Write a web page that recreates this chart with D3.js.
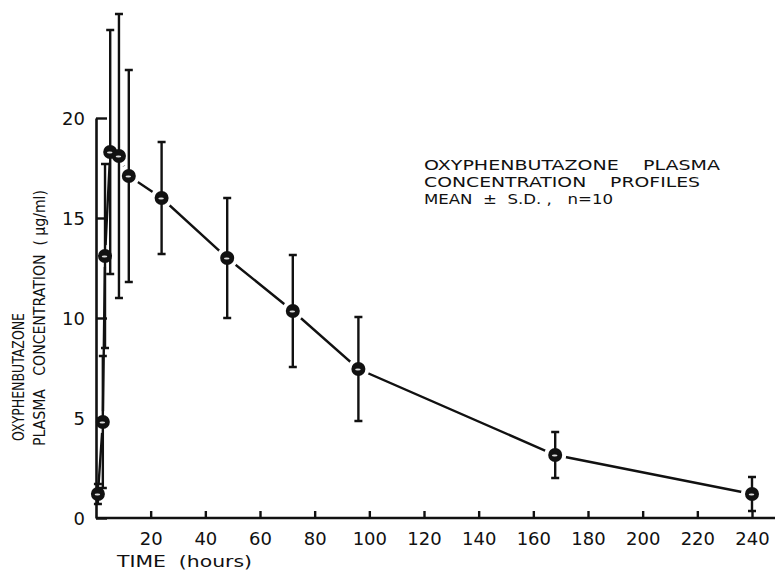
<!DOCTYPE html>
<html lang="en">
<head>
  <meta charset="utf-8" />
  <title>Oxyphenbutazone plasma concentration</title>
  <style>
    html, body { margin: 0; background: #fff; }
    svg { display: block; }
    text { font-family: "DejaVu Sans", sans-serif; fill: #111; white-space: pre; }
  </style>
  <script src="https://cdn.jsdelivr.net/npm/d3@7"></script>
</head>
<body>
<script>
// Values (mean ± S.D., n = 10)
const times = [0.7, 2.5, 3.3, 5.2, 8.4, 12, 24, 48, 72, 96, 168, 240];   // hours
const means = [1.2, 4.8, 13.1, 18.3, 18.1, 17.1, 16.0, 13.0, 10.35, 7.45, 3.15, 1.2]; // µg/ml
const sds   = [0.5, 3.3, 4.6, 6.1, 7.1, 5.3, 2.8, 3.0, 2.8, 2.6, 1.15, 0.85];
const xTicks = [20, 40, 60, 80, 100, 120, 140, 160, 180, 200, 220, 240];
const yTicks = [0, 5, 10, 15, 20];
const note = ["OXYPHENBUTAZONE    PLASMA", "CONCENTRATION    PROFILES", "MEAN  \u00b1  S.D. ,   n=10"];

const W = 780, H = 571;
const ink = "#111";

const svg = d3.select("body").append("svg")
  .attr("width", W).attr("height", H);

const x = d3.scaleLinear().domain([0, 240]).range([96, 752]);
const y = d3.scaleLinear().domain([0, 20]).range([518, 118]);

const data = times.map((t, i) => ({ t, m: means[i], sd: sds[i] }));

// connecting line, broken near each marker like the pen drawing
svg.append("path")
  .datum(data)
  .attr("fill", "none")
  .attr("stroke", ink)
  .attr("stroke-width", 2.4)
  .attr("d", d3.line().x(d => x(d.t)).y(d => y(d.m)));

svg.append("g").selectAll("circle")
  .data(data)
  .join("circle")
    .attr("cx", d => x(d.t))
    .attr("cy", d => y(d.m))
    .attr("r", 11)
    .attr("fill", "#fff");

// axes
const xAxis = d3.axisBottom(x)
  .tickValues(xTicks)
  .tickSizeInner(-7)
  .tickSizeOuter(0)
  .tickPadding(22);
const gx = svg.append("g")
  .attr("transform", `translate(0,${y(0)})`)
  .call(xAxis);
gx.select(".domain").attr("d", `M${x(0)},0H775`);
gx.selectAll("text").attr("font-size", 18).attr("fill", ink);

const yAxis = d3.axisLeft(y)
  .tickValues(yTicks)
  .tickSizeInner(-11)
  .tickSizeOuter(0)
  .tickPadding(11);
const gy = svg.append("g")
  .attr("transform", `translate(${x(0)},0)`)
  .call(yAxis);
gy.selectAll("text").attr("font-size", 18).attr("fill", ink).attr("dy", "0.34em");
svg.selectAll(".domain").attr("stroke", ink).attr("stroke-width", 2.6);
svg.selectAll(".tick line").attr("stroke", ink).attr("stroke-width", 2.4);
gx.selectAll(".tick text").attr("dy", "0.3em");

// error bars
const bars = svg.append("g").attr("stroke", ink).attr("stroke-width", 2.4).attr("fill", "none");
bars.selectAll("path")
  .data(data)
  .join("path")
    .attr("d", d => {
      const cx = x(d.t), y1 = y(d.m + d.sd), y0 = y(Math.max(0, d.m - d.sd));
      return `M${cx - 4},${y1}H${cx + 4}M${cx},${y1}V${y0}M${cx - 4},${y0}H${cx + 4}`;
    });

// markers
const marks = svg.append("g");
marks.selectAll("circle")
  .data(data)
  .join("circle")
    .attr("cx", d => x(d.t))
    .attr("cy", d => y(d.m))
    .attr("r", 7)
    .attr("fill", ink);
marks.selectAll("ellipse")
  .data(data)
  .join("ellipse")
    .attr("cx", d => x(d.t) - 0.5)
    .attr("cy", d => y(d.m) + 0.5)
    .attr("rx", 2.8)
    .attr("ry", 1.1)
    .attr("fill", "#ddd");

// axis titles
svg.append("text")
  .attr("x", 117).attr("y", 567)
  .attr("font-size", 16)
  .attr("textLength", 135)
  .attr("lengthAdjust", "spacingAndGlyphs")
  .text("TIME  (hours)");

const ytitle = svg.append("g").attr("font-size", 16);
ytitle.append("text")
  .attr("transform", "translate(24,441) rotate(-90)")
  .attr("textLength", 128)
  .attr("lengthAdjust", "spacingAndGlyphs")
  .text("OXYPHENBUTAZONE");
ytitle.append("text")
  .attr("transform", "translate(45,446) rotate(-90)")
  .attr("textLength", 256)
  .attr("lengthAdjust", "spacingAndGlyphs")
  .text("PLASMA   CONCENTRATION  ( \u03bcg/ml)");

// annotation
const lens = [296, 276, 189];
svg.append("g").attr("font-size", 14.5)
  .selectAll("text")
  .data(note)
  .join("text")
    .attr("x", 424)
    .attr("y", (d, i) => 170 + i * 17)
    .attr("textLength", (d, i) => lens[i])
    .attr("lengthAdjust", "spacingAndGlyphs")
    .text(d => d);
</script>
</body>
</html>
